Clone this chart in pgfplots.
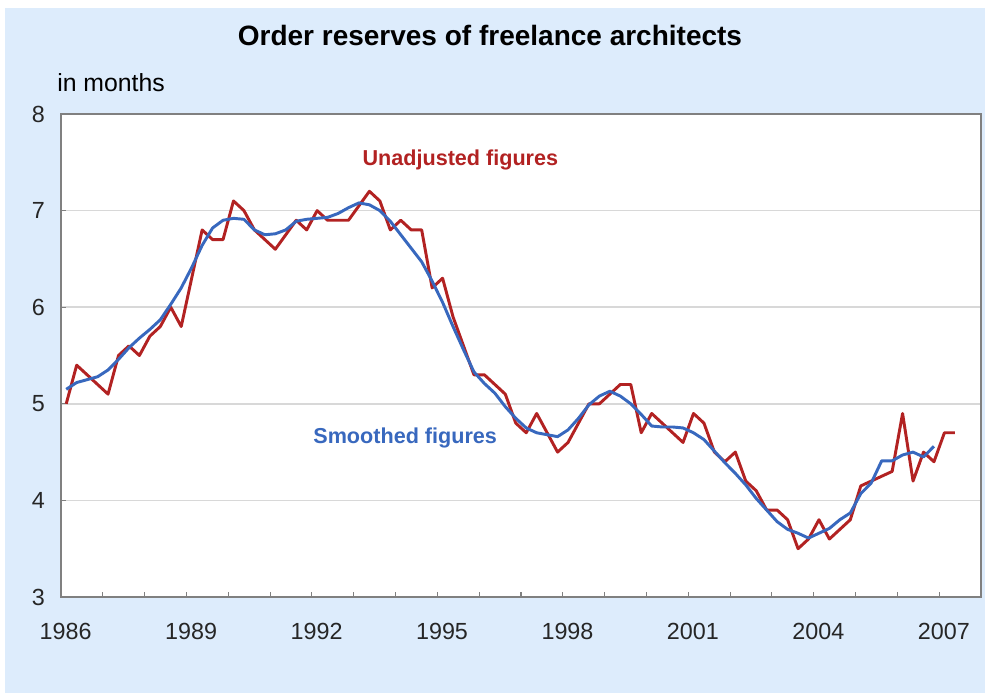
\documentclass[border=0pt]{standalone}
\usepackage{fontspec}
\setmainfont{Liberation Sans}
\usepackage{pgfplots}
\usepackage{pgfplotstable}
\pgfplotsset{compat=1.18}
\definecolor{bgblue}{RGB}{221,236,252}
\definecolor{redline}{RGB}{178,34,34}
\definecolor{blueline}{RGB}{56,104,190}
\definecolor{gridgray}{RGB}{216,216,216}
\definecolor{framegray}{RGB}{128,128,128}

% quarterly observations, i = 0 is 1986 Q1 (plotted at mid-quarter)
\pgfplotstableread{
i v
0 5.0
1 5.4
2 5.3
3 5.2
4 5.1
5 5.5
6 5.6
7 5.5
8 5.7
9 5.8
10 6.0
11 5.8
12 6.3
13 6.8
14 6.7
15 6.7
16 7.1
17 7.0
18 6.8
19 6.7
20 6.6
21 6.75
22 6.9
23 6.8
24 7.0
25 6.9
26 6.9
27 6.9
28 7.05
29 7.2
30 7.1
31 6.8
32 6.9
33 6.8
34 6.8
35 6.2
36 6.3
37 5.9
38 5.6
39 5.3
40 5.3
41 5.2
42 5.1
43 4.8
44 4.7
45 4.9
46 4.7
47 4.5
48 4.6
49 4.8
50 5.0
51 5.0
52 5.1
53 5.2
54 5.2
55 4.7
56 4.9
57 4.8
58 4.7
59 4.6
60 4.9
61 4.8
62 4.5
63 4.4
64 4.5
65 4.2
66 4.1
67 3.9
68 3.9
69 3.8
70 3.5
71 3.6
72 3.8
73 3.6
74 3.7
75 3.8
76 4.15
77 4.2
78 4.25
79 4.3
80 4.9
81 4.2
82 4.5
83 4.4
84 4.7
85 4.7
}\redtab

\pgfplotstableread{
i v
0 5.15
1 5.22
2 5.25
3 5.28
4 5.35
5 5.46
6 5.58
7 5.68
8 5.77
9 5.87
10 6.03
11 6.20
12 6.41
13 6.64
14 6.82
15 6.90
16 6.92
17 6.91
18 6.80
19 6.75
20 6.76
21 6.80
22 6.89
23 6.91
24 6.92
25 6.93
26 6.97
27 7.03
28 7.08
29 7.06
30 7.00
31 6.89
32 6.75
33 6.61
34 6.47
35 6.27
36 6.05
37 5.80
38 5.56
39 5.33
40 5.21
41 5.11
42 4.97
43 4.85
44 4.75
45 4.70
46 4.68
47 4.66
48 4.73
49 4.85
50 4.99
51 5.08
52 5.13
53 5.08
54 5.00
55 4.89
56 4.77
57 4.76
58 4.76
59 4.75
60 4.70
61 4.63
62 4.51
63 4.39
64 4.28
65 4.16
66 4.02
67 3.90
68 3.78
69 3.70
70 3.66
71 3.61
72 3.66
73 3.71
74 3.80
75 3.87
76 4.07
77 4.18
78 4.41
79 4.41
80 4.47
81 4.50
82 4.45
83 4.56
}\bluetab

\begin{document}
\begin{tikzpicture}
\begin{scope}[x=0.75pt,y=0.75pt]
\fill[white] (0,0) rectangle (985,693);
\fill[bgblue] (5,0) rectangle (985,685);
\path[use as bounding box] (0,0) rectangle (985,693);
\node[font=\fontsize{21}{21}\selectfont\bfseries] at (490,658) {Order reserves of freelance architects};
\node[anchor=west, inner sep=0pt, font=\fontsize{18.6}{18.6}\selectfont] at (57,610) {in months};
\end{scope}
\begin{axis}[
  at={(45.75pt,72pt)}, anchor=south west,
  scale only axis, width=690pt, height=362.25pt,
  xmin=1986, xmax=2008, ymin=3, ymax=8,
  axis background/.style={fill=white},
  xtick={1986,1989,1992,1995,1998,2001,2004,2007},
  xticklabels={1986,1989,1992,1995,1998,2001,2004,2007},
  minor xtick={1987,1988,1990,1991,1993,1994,1996,1997,1999,2000,2002,2003,2005,2006},
  ytick={3,4,5,6,7,8},
  yticklabels={3,4,5,6,7,8},
  xtick pos=bottom, ytick pos=left,
  tick align=inside,
  major tick length=4pt, minor tick length=4pt,
  tick style={framegray, line width=0.8pt},
  ymajorgrids,
  major grid style={gridgray, line width=1.3pt},
  axis line style={framegray, line width=1.4pt},
  tick label style={font=\fontsize{17.5}{17.5}\selectfont, text=black!85},
  xticklabel style={anchor=center, yshift=-26pt, xshift=3.5pt},
  yticklabel style={anchor=center, xshift=-17pt},
  clip=false,
]
\addplot[redline, line width=2.2pt, line join=round] table[x expr=1986.125+0.25*\thisrow{i}, y=v] {\redtab};
\addplot[blueline, line width=2.2pt, line join=round] table[x expr=1986.125+0.25*\thisrow{i}, y=v] {\bluetab};
\node[text=redline, font=\fontsize{16.2}{16.2}\selectfont\bfseries] at (axis cs:1995.55,7.52) {Unadjusted figures};
\node[text=blueline, font=\fontsize{16.2}{16.2}\selectfont\bfseries] at (axis cs:1994.23,4.65) {Smoothed figures};
\end{axis}
\end{tikzpicture}
\end{document}
